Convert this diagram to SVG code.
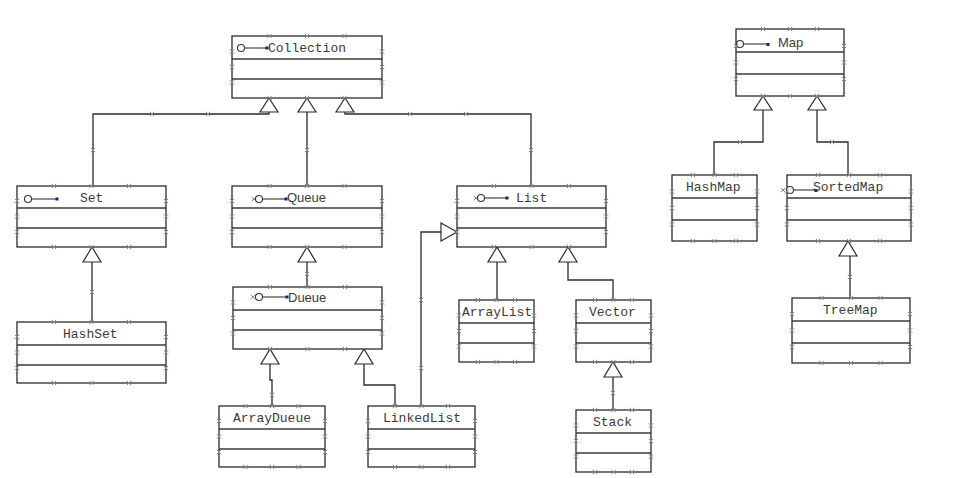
<svg xmlns="http://www.w3.org/2000/svg" xmlns:xlink="http://www.w3.org/1999/xlink" width="953" height="478" viewBox="0 0 953 478">
<defs>
<style>
.box{fill:#fff;stroke:#2b2b2b;stroke-width:1.3}
.dv{stroke:#3a3a3a;stroke-width:1.6}
.t{font-family:"Liberation Mono",monospace;font-size:13px;fill:#3a3a3a}
.ts{font-family:"Liberation Sans",Arial,sans-serif;font-size:13px;fill:#3a3a3a}
.conn{fill:none;stroke:#2b2b2b;stroke-width:1.3}
.tri{fill:#fff;stroke:#2b2b2b;stroke-width:1.2}
.ic{fill:#fff;stroke:#333;stroke-width:1.1}
.il{stroke:#333;stroke-width:1.1}
.dot{fill:#1c1c7a}
</style>
<symbol id="x" overflow="visible"><path d="M-2.2,-2.2L2.2,2.2M-2.2,2.2L2.2,-2.2" stroke="#8a8a8a" stroke-width="1" fill="none"/></symbol>
</defs>
<rect width="953" height="478" fill="#fff"/>

<g id="connectors">
<path class="conn" d="M93,186V114H269V112"/>
<path class="conn" d="M531,186V114H345V112"/>
<path class="conn" d="M307,186V112"/>
<path class="conn" d="M92,322V262"/>
<path class="conn" d="M307,287V262"/>
<path class="conn" d="M272,406V380H270V364"/>
<path class="conn" d="M395,406V385H364V364"/>
<path class="conn" d="M421,406V232H441"/>
<path class="conn" d="M497,300V262"/>
<path class="conn" d="M613,300V280H568V262"/>
<path class="conn" d="M613,410V377"/>
<path class="conn" d="M714,175V142H763V110"/>
<path class="conn" d="M848,175V142H817V110"/>
<path class="conn" d="M850,298V256"/>
<polygon class="tri" points="269,98 260,112 278,112"/>
<polygon class="tri" points="307,98 298,112 316,112"/>
<polygon class="tri" points="345,98 336,112 354,112"/>
<polygon class="tri" points="92,247 83,262 101,262"/>
<polygon class="tri" points="307,247 298,262 316,262"/>
<polygon class="tri" points="270,349 261,364 279,364"/>
<polygon class="tri" points="364,349 355,364 373,364"/>
<polygon class="tri" points="457,232 441,223 441,241"/>
<polygon class="tri" points="497,247 488,262 506,262"/>
<polygon class="tri" points="568,247 559,262 577,262"/>
<polygon class="tri" points="613,362 604,377 622,377"/>
<polygon class="tri" points="763,96 754,110 772,110"/>
<polygon class="tri" points="817,96 808,110 826,110"/>
<polygon class="tri" points="848,241 839,256 857,256"/>
<use href="#x" x="152" y="114"/><use href="#x" x="208" y="114"/><use href="#x" x="410" y="114"/><use href="#x" x="466" y="114"/>
<use href="#x" x="93" y="150"/><use href="#x" x="531" y="150"/><use href="#x" x="307" y="150"/>
<use href="#x" x="421" y="300"/><use href="#x" x="421" y="368"/><use href="#x" x="307" y="274"/>
<use href="#x" x="92" y="292"/><use href="#x" x="613" y="393"/><use href="#x" x="272" y="395"/>
<use href="#x" x="740" y="142"/><use href="#x" x="832" y="142"/><use href="#x" x="850" y="277"/>
</g>

<g id="Collection">
<rect class="box" x="232" y="36" width="150" height="62"/>
<line class="dv" x1="232" y1="59" x2="382" y2="59"/><line class="dv" x1="232" y1="79" x2="382" y2="79"/>
<circle class="ic" cx="241" cy="48" r="3.5"/><line class="il" x1="244.5" y1="48" x2="266" y2="48"/><rect class="dot" x="265.5" y="46.5" width="3" height="3"/>
<text class="t" x="268" y="52">Collection</text>
<use href="#x" x="269.5" y="36"/><use href="#x" x="307" y="36"/><use href="#x" x="344.5" y="36"/>
<use href="#x" x="269.5" y="98"/><use href="#x" x="307" y="98"/><use href="#x" x="344.5" y="98"/>
<use href="#x" x="232" y="51.5"/><use href="#x" x="232" y="67"/><use href="#x" x="232" y="82.5"/>
<use href="#x" x="382" y="51.5"/><use href="#x" x="382" y="67"/><use href="#x" x="382" y="82.5"/>
</g>

<g id="Set">
<rect class="box" x="17" y="186" width="149" height="61"/>
<line class="dv" x1="17" y1="208" x2="166" y2="208"/><line class="dv" x1="17" y1="228" x2="166" y2="228"/>
<circle class="ic" cx="28" cy="199" r="3.5"/><line class="il" x1="31.5" y1="199" x2="56" y2="199"/><rect class="dot" x="55.5" y="197.5" width="3" height="3"/>
<text class="t" x="80" y="202">Set</text>
<use href="#x" x="54" y="186"/><use href="#x" x="91.5" y="186"/><use href="#x" x="129" y="186"/>
<use href="#x" x="54" y="247"/><use href="#x" x="91.5" y="247"/><use href="#x" x="129" y="247"/>
<use href="#x" x="17" y="201"/><use href="#x" x="17" y="216.5"/><use href="#x" x="17" y="232"/>
<use href="#x" x="166" y="201"/><use href="#x" x="166" y="216.5"/><use href="#x" x="166" y="232"/>
</g>

<g id="Queue">
<rect class="box" x="232" y="186" width="150" height="61"/>
<line class="dv" x1="232" y1="208" x2="382" y2="208"/><line class="dv" x1="232" y1="228" x2="382" y2="228"/>
<use href="#x" x="254" y="199"/>
<circle class="ic" cx="259" cy="199" r="3.5"/><line class="il" x1="262.5" y1="199" x2="285" y2="199"/><rect class="dot" x="284.5" y="197.5" width="3" height="3"/>
<text class="ts" x="287" y="202">Queue</text>
<use href="#x" x="269.5" y="186"/><use href="#x" x="307" y="186"/><use href="#x" x="344.5" y="186"/>
<use href="#x" x="269.5" y="247"/><use href="#x" x="307" y="247"/><use href="#x" x="344.5" y="247"/>
<use href="#x" x="232" y="201"/><use href="#x" x="232" y="216.5"/><use href="#x" x="232" y="232"/>
<use href="#x" x="382" y="201"/><use href="#x" x="382" y="216.5"/><use href="#x" x="382" y="232"/>
</g>

<g id="List">
<rect class="box" x="457" y="186" width="149" height="61"/>
<line class="dv" x1="457" y1="208" x2="606" y2="208"/><line class="dv" x1="457" y1="228" x2="606" y2="228"/>
<use href="#x" x="476" y="198"/>
<circle class="ic" cx="481" cy="198" r="3.5"/><line class="il" x1="484.5" y1="198" x2="506" y2="198"/><rect class="dot" x="505.5" y="196.5" width="3" height="3"/>
<text class="t" x="516" y="202">List</text>
<use href="#x" x="494" y="186"/><use href="#x" x="531.5" y="186"/><use href="#x" x="569" y="186"/>
<use href="#x" x="494" y="247"/><use href="#x" x="531.5" y="247"/><use href="#x" x="569" y="247"/>
<use href="#x" x="457" y="201"/><use href="#x" x="457" y="216.5"/><use href="#x" x="457" y="232"/>
<use href="#x" x="606" y="201"/><use href="#x" x="606" y="216.5"/><use href="#x" x="606" y="232"/>
</g>

<g id="Map">
<rect class="box" x="736" y="29" width="108" height="67"/>
<line class="dv" x1="736" y1="52" x2="844" y2="52"/><line class="dv" x1="736" y1="74" x2="844" y2="74"/>
<circle class="ic" cx="740" cy="44" r="3.5"/><line class="il" x1="743.5" y1="44" x2="767" y2="44"/><rect class="dot" x="766.5" y="43" width="3" height="3"/>
<text class="ts" x="778" y="47">Map</text>
<use href="#x" x="763" y="29"/><use href="#x" x="790" y="29"/><use href="#x" x="817" y="29"/>
<use href="#x" x="763" y="96"/><use href="#x" x="790" y="96"/><use href="#x" x="817" y="96"/>
<use href="#x" x="736" y="46"/><use href="#x" x="736" y="62.5"/><use href="#x" x="736" y="79"/>
<use href="#x" x="844" y="46"/><use href="#x" x="844" y="62.5"/><use href="#x" x="844" y="79"/>
</g>

<g id="HashMap">
<rect class="box" x="672" y="175" width="85" height="66"/>
<line class="dv" x1="672" y1="198" x2="757" y2="198"/><line class="dv" x1="672" y1="220" x2="757" y2="220"/>
<text class="t" x="686" y="191">HashMap</text>
<use href="#x" x="693" y="175"/><use href="#x" x="714.5" y="175"/><use href="#x" x="736" y="175"/>
<use href="#x" x="693" y="241"/><use href="#x" x="714.5" y="241"/><use href="#x" x="736" y="241"/>
<use href="#x" x="672" y="191.5"/><use href="#x" x="672" y="208"/><use href="#x" x="672" y="224.5"/>
<use href="#x" x="757" y="191.5"/><use href="#x" x="757" y="208"/><use href="#x" x="757" y="224.5"/>
</g>

<g id="SortedMap">
<rect class="box" x="787" y="175" width="124" height="66"/>
<line class="dv" x1="787" y1="198" x2="911" y2="198"/><line class="dv" x1="787" y1="220" x2="911" y2="220"/>
<use href="#x" x="783" y="190"/>
<circle class="ic" cx="790" cy="190" r="3.5"/><line class="il" x1="793.5" y1="190" x2="815" y2="190"/><rect class="dot" x="814.5" y="189" width="3" height="3"/>
<text class="t" x="813" y="191">SortedMap</text>
<use href="#x" x="818" y="175"/><use href="#x" x="849" y="175"/><use href="#x" x="880" y="175"/>
<use href="#x" x="818" y="241"/><use href="#x" x="849" y="241"/><use href="#x" x="880" y="241"/>
<use href="#x" x="787" y="191.5"/><use href="#x" x="787" y="208"/><use href="#x" x="787" y="224.5"/>
<use href="#x" x="911" y="191.5"/><use href="#x" x="911" y="208"/><use href="#x" x="911" y="224.5"/>
</g>

<g id="HashSet">
<rect class="box" x="17" y="322" width="149" height="61"/>
<line class="dv" x1="17" y1="345" x2="166" y2="345"/><line class="dv" x1="17" y1="365" x2="166" y2="365"/>
<text class="t" x="63" y="338">HashSet</text>
<use href="#x" x="54" y="322"/><use href="#x" x="91.5" y="322"/><use href="#x" x="129" y="322"/>
<use href="#x" x="54" y="383"/><use href="#x" x="91.5" y="383"/><use href="#x" x="129" y="383"/>
<use href="#x" x="17" y="337"/><use href="#x" x="17" y="352.5"/><use href="#x" x="17" y="368"/>
<use href="#x" x="166" y="337"/><use href="#x" x="166" y="352.5"/><use href="#x" x="166" y="368"/>
</g>

<g id="Dueue">
<rect class="box" x="233" y="287" width="149" height="62"/>
<line class="dv" x1="233" y1="310" x2="382" y2="310"/><line class="dv" x1="233" y1="330" x2="382" y2="330"/>
<use href="#x" x="253" y="297"/>
<circle class="ic" cx="259" cy="297" r="3.5"/><line class="il" x1="262.5" y1="297" x2="286" y2="297"/><rect class="dot" x="285.5" y="295.5" width="3" height="3"/>
<text class="ts" x="288" y="302">Dueue</text>
<use href="#x" x="270" y="287"/><use href="#x" x="307.5" y="287"/><use href="#x" x="345" y="287"/>
<use href="#x" x="270" y="349"/><use href="#x" x="307.5" y="349"/><use href="#x" x="345" y="349"/>
<use href="#x" x="233" y="302.5"/><use href="#x" x="233" y="318"/><use href="#x" x="233" y="333.5"/>
<use href="#x" x="382" y="302.5"/><use href="#x" x="382" y="318"/><use href="#x" x="382" y="333.5"/>
</g>

<g id="ArrayDueue">
<rect class="box" x="219" y="406" width="106" height="61"/>
<line class="dv" x1="219" y1="429" x2="325" y2="429"/><line class="dv" x1="219" y1="449" x2="325" y2="449"/>
<text class="t" x="233" y="422">ArrayDueue</text>
<use href="#x" x="245.5" y="406"/><use href="#x" x="272" y="406"/><use href="#x" x="298.5" y="406"/>
<use href="#x" x="245.5" y="467"/><use href="#x" x="272" y="467"/><use href="#x" x="298.5" y="467"/>
<use href="#x" x="219" y="421"/><use href="#x" x="219" y="436.5"/><use href="#x" x="219" y="452"/>
<use href="#x" x="325" y="421"/><use href="#x" x="325" y="436.5"/><use href="#x" x="325" y="452"/>
</g>

<g id="LinkedList">
<rect class="box" x="368" y="406" width="107" height="61"/>
<line class="dv" x1="368" y1="429" x2="475" y2="429"/><line class="dv" x1="368" y1="449" x2="475" y2="449"/>
<text class="t" x="383" y="422">LinkedList</text>
<use href="#x" x="395" y="406"/><use href="#x" x="421.5" y="406"/><use href="#x" x="448" y="406"/>
<use href="#x" x="395" y="467"/><use href="#x" x="421.5" y="467"/><use href="#x" x="448" y="467"/>
<use href="#x" x="368" y="421"/><use href="#x" x="368" y="436.5"/><use href="#x" x="368" y="452"/>
<use href="#x" x="475" y="421"/><use href="#x" x="475" y="436.5"/><use href="#x" x="475" y="452"/>
</g>

<g id="ArrayList">
<rect class="box" x="459" y="300" width="75" height="62"/>
<line class="dv" x1="459" y1="323" x2="534" y2="323"/><line class="dv" x1="459" y1="343" x2="534" y2="343"/>
<text class="t" x="462" y="316">ArrayList</text>
<use href="#x" x="478" y="300"/><use href="#x" x="496.5" y="300"/><use href="#x" x="515" y="300"/>
<use href="#x" x="478" y="362"/><use href="#x" x="496.5" y="362"/><use href="#x" x="515" y="362"/>
<use href="#x" x="459" y="315.5"/><use href="#x" x="459" y="331"/><use href="#x" x="459" y="346.5"/>
<use href="#x" x="534" y="315.5"/><use href="#x" x="534" y="331"/><use href="#x" x="534" y="346.5"/>
</g>

<g id="Vector">
<rect class="box" x="576" y="300" width="75" height="62"/>
<line class="dv" x1="576" y1="323" x2="651" y2="323"/><line class="dv" x1="576" y1="343" x2="651" y2="343"/>
<text class="t" x="589" y="316">Vector</text>
<use href="#x" x="595" y="300"/><use href="#x" x="613.5" y="300"/><use href="#x" x="632" y="300"/>
<use href="#x" x="595" y="362"/><use href="#x" x="613.5" y="362"/><use href="#x" x="632" y="362"/>
<use href="#x" x="576" y="315.5"/><use href="#x" x="576" y="331"/><use href="#x" x="576" y="346.5"/>
<use href="#x" x="651" y="315.5"/><use href="#x" x="651" y="331"/><use href="#x" x="651" y="346.5"/>
</g>

<g id="Stack">
<rect class="box" x="576" y="410" width="75" height="62"/>
<line class="dv" x1="576" y1="433" x2="651" y2="433"/><line class="dv" x1="576" y1="453" x2="651" y2="453"/>
<text class="t" x="593" y="426">Stack</text>
<use href="#x" x="595" y="410"/><use href="#x" x="613.5" y="410"/><use href="#x" x="632" y="410"/>
<use href="#x" x="595" y="472"/><use href="#x" x="613.5" y="472"/><use href="#x" x="632" y="472"/>
<use href="#x" x="576" y="425.5"/><use href="#x" x="576" y="441"/><use href="#x" x="576" y="456.5"/>
<use href="#x" x="651" y="425.5"/><use href="#x" x="651" y="441"/><use href="#x" x="651" y="456.5"/>
</g>

<g id="TreeMap">
<rect class="box" x="792" y="298" width="118" height="65"/>
<line class="dv" x1="792" y1="321" x2="910" y2="321"/><line class="dv" x1="792" y1="343" x2="910" y2="343"/>
<text class="t" x="823" y="314">TreeMap</text>
<use href="#x" x="821.5" y="298"/><use href="#x" x="851" y="298"/><use href="#x" x="880.5" y="298"/>
<use href="#x" x="821.5" y="363"/><use href="#x" x="851" y="363"/><use href="#x" x="880.5" y="363"/>
<use href="#x" x="792" y="314"/><use href="#x" x="792" y="330.5"/><use href="#x" x="792" y="347"/>
<use href="#x" x="910" y="314"/><use href="#x" x="910" y="330.5"/><use href="#x" x="910" y="347"/>
</g>
</svg>
